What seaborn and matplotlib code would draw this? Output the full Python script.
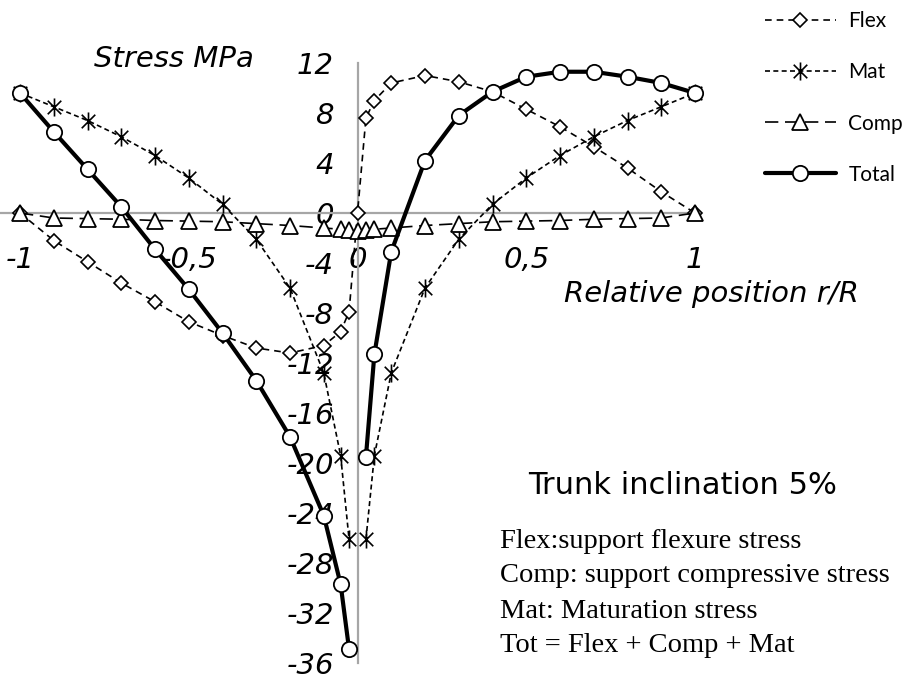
import numpy as np
import pandas as pd
import matplotlib
matplotlib.use("Agg")
import matplotlib.pyplot as plt
from matplotlib.path import Path
import seaborn as sns

# positions r/R (denser near the pith)
rel_pos = [-1, -0.9, -0.8, -0.7, -0.6, -0.5, -0.4, -0.3, -0.2, -0.1, -0.05, -0.025, 0,
           0.025, 0.05, 0.1, 0.2, 0.3, 0.4, 0.5, 0.6, 0.7, 0.8, 0.9, 1]

flex = [0, -2.2, -3.9, -5.6, -7.1, -8.7, -9.8, -10.8, -11.2, -10.6, -9.5, -7.9, 0,
        7.6, 9.0, 10.4, 11.0, 10.5, 9.7, 8.3, 6.9, 5.3, 3.6, 1.7, 0]
mat = [9.6, 8.5, 7.4, 6.1, 4.6, 2.8, 0.7, -2.1, -6.0, -12.8, -19.4, -26.1, np.nan,
       -26.1, -19.4, -12.8, -6.0, -2.1, 0.7, 2.8, 4.6, 6.1, 7.4, 8.5, 9.6]
comp = [0, -0.4, -0.45, -0.5, -0.6, -0.65, -0.7, -0.85, -1.0, -1.2, -1.3, -1.35, -1.4,
        -1.35, -1.3, -1.2, -1.0, -0.85, -0.7, -0.65, -0.6, -0.5, -0.45, -0.4, 0]
total = [9.6, 6.5, 3.5, 0.5, -2.9, -6.1, -9.6, -13.4, -17.9, -24.2, -29.7, -34.9, np.nan,
         -19.5, -11.3, -3.1, 4.2, 7.8, 9.7, 10.9, 11.3, 11.3, 10.9, 10.4, 9.6]

series_names = ["Flex", "Mat", "Comp", "Total"]
y_ticks = list(range(-36, 13, 4))
x_ticks = [-1, -0.5, 0, 0.5, 1]
x_ticklabels = ["-1", "-0,5", "0", "0,5", "1"]
notes = ["Flex:support flexure stress", "Comp: support compressive stress",
         "Mat: Maturation stress", "Tot = Flex + Comp + Mat"]

rows = []
for name, vals in zip(series_names, [flex, mat, comp, total]):
    for x, v in zip(rel_pos, vals):
        if np.isnan(v):
            continue
        # Mat and Total are two separate branches either side of the pith
        if name in ("Mat", "Total"):
            branch = "L" if x < 0 else "R"
        else:
            branch = "all"
        rows.append({"x": x, "stress": v, "series": name, "branch": branch})
df = pd.DataFrame(rows)

sns.set_style("white")
narrow = ["Liberation Sans Narrow", "DejaVu Sans"]
plt.rcParams["font.family"] = narrow
plt.rcParams["text.color"] = "black"
plt.rcParams["xtick.color"] = "black"
plt.rcParams["ytick.color"] = "black"

asterisk = Path([(0, -1), (0, 1), (-0.75, -0.75), (0.75, 0.75), (-0.75, 0.75), (0.75, -0.75)],
                [Path.MOVETO, Path.LINETO] * 3)

styles = {
    "Flex": dict(linestyle=(0, (4, 3)), lw=1.2, marker="D", ms=7.5, mew=1.2),
    "Mat": dict(linestyle=(0, (3, 2)), lw=1.2, marker=asterisk, ms=13, mew=1.2),
    "Comp": dict(linestyle=(0, (8, 4)), lw=1.2, marker="^", ms=11, mew=1.3),
    "Total": dict(linestyle="-", lw=3, marker="o", ms=11, mew=1.3),
}

fig = plt.figure(figsize=(9.19, 6.84), dpi=100)
ax = fig.add_axes([0, 21 / 684, 700 / 919, 600 / 684])

for name in series_names:
    sub = df[df["series"] == name]
    st = styles[name]
    sns.lineplot(data=sub, x="x", y="stress", units="branch", estimator=None, ax=ax,
                 color="black", linestyle=st["linestyle"], lw=st["lw"], marker=st["marker"],
                 ms=st["ms"], mew=st["mew"], mfc="white", mec="black", label=name,
                 clip_on=False, zorder=3)

if ax.get_legend() is not None:
    ax.get_legend().remove()

ax.set_xlim(-1 - 20 / 337.5, 1 + 5 / 337.5)
ax.set_ylim(-36, 12)

gray = "#a6a6a6"
for s in ["top", "right"]:
    ax.spines[s].set_visible(False)
ax.spines["left"].set_position(("data", 0))
ax.spines["bottom"].set_position(("data", 0))
ax.spines["left"].set_color(gray)
ax.spines["bottom"].set_color(gray)
ax.spines["left"].set_linewidth(1.6)
ax.spines["bottom"].set_linewidth(1.6)

ax.set_yticks(y_ticks)
ax.set_yticklabels([str(t) for t in y_ticks])
ax.set_xticks(x_ticks)
ax.set_xticklabels(x_ticklabels)
ax.tick_params(axis="y", direction="out", length=5, width=1.5, color=gray,
               labelcolor="black", pad=12)
ax.tick_params(axis="x", length=0, pad=24, labelcolor="black")
for lbl in ax.get_yticklabels() + ax.get_xticklabels():
    lbl.set_fontstyle("italic")
    lbl.set_fontsize(21)
    lbl.set_family(narrow)

ax.set_xlabel("")
ax.set_ylabel("")
fig.text(174 / 919, 1 - 59 / 684, "Stress MPa", fontsize=21, style="italic",
         family=narrow, ha="center", va="center", color="black")
fig.text(711 / 919, 1 - 294 / 684, "Relative position r/R", fontsize=21, style="italic",
         family=narrow, ha="center", va="center", color="black")
fig.text(528 / 919, 1 - 485 / 684, "Trunk inclination 5%", fontsize=22,
         family=narrow, ha="left", va="center", color="black")
for i, line in enumerate(notes):
    fig.text(500 / 919, 1 - (541 + 35 * i) / 684, line, fontsize=20.5,
             family=["Liberation Serif", "DejaVu Serif"], ha="left", va="center",
             color="black")

handles, labels = ax.get_legend_handles_labels()
uniq = dict(zip(labels, handles))
leg = fig.legend([uniq[n] for n in series_names], series_names, loc="upper left",
                 bbox_to_anchor=(765 / 919, 1 - 11 / 684), frameon=False,
                 prop={"family": ["Lato", "DejaVu Sans"], "size": 15},
                 handlelength=3.4, handletextpad=0.6, labelspacing=1.5, borderpad=0,
                 borderaxespad=0)
for t in leg.get_texts():
    t.set_color("black")

fig.savefig("out.png", dpi=100)
